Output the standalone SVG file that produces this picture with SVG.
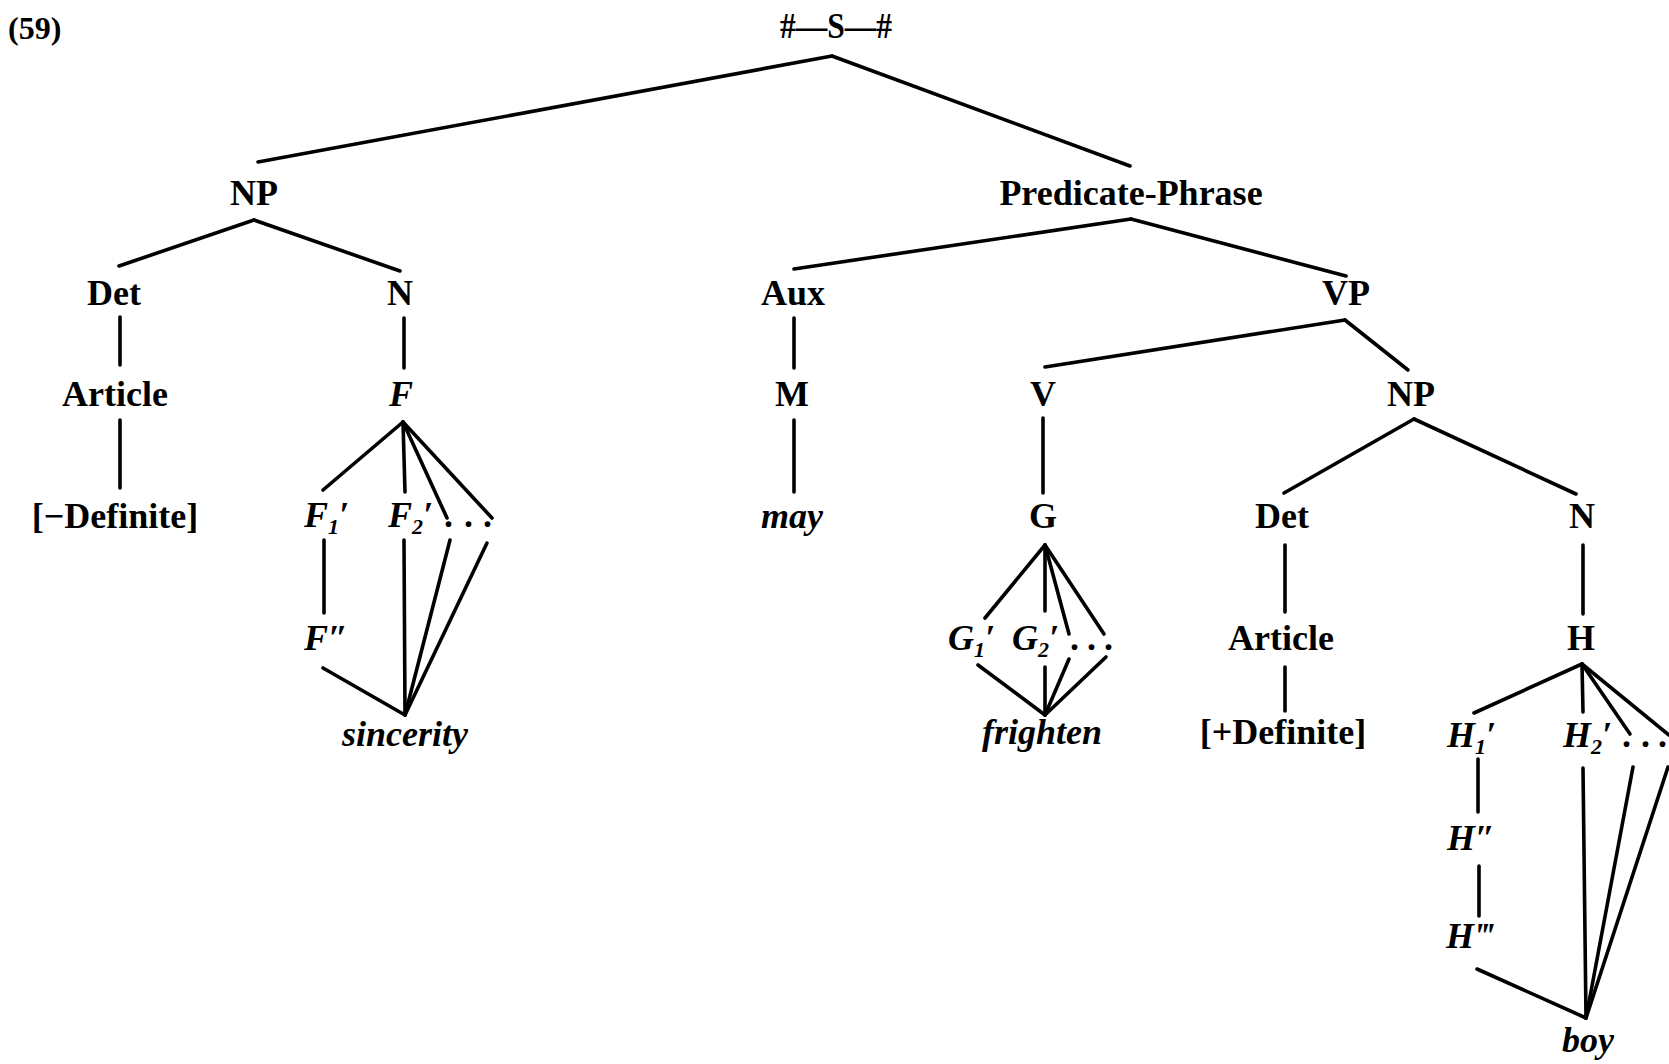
<svg xmlns="http://www.w3.org/2000/svg" width="1669" height="1064" viewBox="0 0 1669 1064">
<style>
text{font-family:"Liberation Serif","Times New Roman",serif;font-weight:bold;font-size:36px;fill:#000}
.c{text-anchor:middle}
.it{font-style:italic}
.sub{font-size:22px}
#edges line{stroke:#000;stroke-width:3.6;stroke-linecap:round;fill:none}
</style>
<rect width="1669" height="1064" fill="#fff"/>
<g id="edges">
<line x1="832" y1="56" x2="258" y2="162"/>
<line x1="832" y1="56" x2="1130" y2="166"/>
<line x1="254" y1="220" x2="119" y2="266"/>
<line x1="254" y1="220" x2="400" y2="271"/>
<line x1="120" y1="317" x2="120" y2="365"/>
<line x1="120" y1="420" x2="120" y2="488"/>
<line x1="404" y1="318" x2="404" y2="368"/>
<line x1="403" y1="422" x2="323" y2="490"/>
<line x1="403" y1="422" x2="405" y2="492"/>
<line x1="403" y1="422" x2="447" y2="518"/>
<line x1="403" y1="422" x2="492" y2="518"/>
<line x1="324" y1="540" x2="324" y2="613"/>
<line x1="323" y1="668" x2="405" y2="715"/>
<line x1="404" y1="540" x2="405" y2="715"/>
<line x1="450" y1="540" x2="405" y2="715"/>
<line x1="487" y1="543" x2="405" y2="715"/>
<line x1="1131" y1="219" x2="794" y2="269"/>
<line x1="1131" y1="219" x2="1346" y2="276"/>
<line x1="794" y1="318" x2="794" y2="368"/>
<line x1="794" y1="420" x2="794" y2="492"/>
<line x1="1345" y1="320" x2="1045" y2="367"/>
<line x1="1345" y1="320" x2="1408" y2="370"/>
<line x1="1043" y1="418" x2="1043" y2="493"/>
<line x1="1045" y1="545" x2="985" y2="618"/>
<line x1="1045" y1="545" x2="1045" y2="611"/>
<line x1="1045" y1="545" x2="1069" y2="634"/>
<line x1="1045" y1="545" x2="1104" y2="634"/>
<line x1="978" y1="665" x2="1045" y2="715"/>
<line x1="1045" y1="667" x2="1045" y2="715"/>
<line x1="1069" y1="659" x2="1045" y2="715"/>
<line x1="1106" y1="657" x2="1045" y2="715"/>
<line x1="1414" y1="419" x2="1284" y2="493"/>
<line x1="1414" y1="419" x2="1576" y2="494"/>
<line x1="1285" y1="545" x2="1285" y2="612"/>
<line x1="1285" y1="667" x2="1285" y2="711"/>
<line x1="1583" y1="545" x2="1583" y2="614"/>
<line x1="1582" y1="664" x2="1474" y2="713"/>
<line x1="1582" y1="664" x2="1583" y2="712"/>
<line x1="1582" y1="664" x2="1630" y2="734"/>
<line x1="1582" y1="664" x2="1669" y2="735"/>
<line x1="1478" y1="759" x2="1478" y2="812"/>
<line x1="1479" y1="866" x2="1479" y2="916"/>
<line x1="1477" y1="969" x2="1586" y2="1018"/>
<line x1="1583" y1="768" x2="1586" y2="1018"/>
<line x1="1633" y1="767" x2="1586" y2="1018"/>
<line x1="1668" y1="767" x2="1586" y2="1018"/>
</g>
<g id="label59"><text x="8" y="39" style="font-size:32px">(59)</text></g>
<g id="root"><text class="c" x="836" y="38" textLength="112" lengthAdjust="spacingAndGlyphs">#—S—#</text></g>
<g id="np1"><text class="c" x="254" y="205">NP</text></g>
<g id="pp"><text class="c" x="1131" y="205">Predicate-Phrase</text></g>
<g id="det1"><text class="c" x="114" y="305">Det</text></g>
<g id="n1"><text class="c" x="400" y="305">N</text></g>
<g id="aux"><text class="c" x="793" y="305">Aux</text></g>
<g id="vp"><text class="c" x="1346" y="305">VP</text></g>
<g id="article1"><text class="c" x="115" y="406">Article</text></g>
<g id="f"><text class="c it" x="401" y="406">F</text></g>
<g id="m"><text class="c" x="792" y="406">M</text></g>
<g id="v"><text class="c" x="1043" y="406">V</text></g>
<g id="np2"><text class="c" x="1411" y="406">NP</text></g>
<g id="mindef"><text class="c" x="115" y="528">[−Definite]</text></g>
<g id="f1"><text class="it" x="304" y="527">F<tspan class="sub" dy="7">1</tspan><tspan dy="-7">′</tspan></text></g>
<g id="f2"><text class="it" x="388" y="527">F<tspan class="sub" dy="7">2</tspan><tspan dy="-7">′</tspan></text></g>
<g id="fdots"><text x="444 464 483" y="527">...</text></g>
<g id="may"><text class="c it" x="792" y="528">may</text></g>
<g id="g"><text class="c" x="1043" y="528">G</text></g>
<g id="det2"><text class="c" x="1282" y="528">Det</text></g>
<g id="n2"><text class="c" x="1582" y="528">N</text></g>
<g id="f2p"><text class="it" x="304" y="650">F″</text></g>
<g id="g1"><text class="it" x="948" y="650">G<tspan class="sub" dy="7">1</tspan><tspan dy="-7">′</tspan></text></g>
<g id="g2"><text class="it" x="1012" y="650">G<tspan class="sub" dy="7">2</tspan><tspan dy="-7">′</tspan></text></g>
<g id="gdots"><text x="1070 1087 1104" y="650">...</text></g>
<g id="article2"><text class="c" x="1281" y="650">Article</text></g>
<g id="h"><text class="c" x="1581" y="650">H</text></g>
<g id="sincerity"><text class="c it" x="405" y="746">sincerity</text></g>
<g id="frighten"><text class="c it" x="1042" y="744">frighten</text></g>
<g id="plusdef"><text class="c" x="1283" y="744">[+Definite]</text></g>
<g id="h1"><text class="it" x="1447" y="747">H<tspan class="sub" dy="7">1</tspan><tspan dy="-7">′</tspan></text></g>
<g id="h2"><text class="it" x="1563" y="747">H<tspan class="sub" dy="7">2</tspan><tspan dy="-7">′</tspan></text></g>
<g id="hdots"><text x="1622 1641 1658" y="747">...</text></g>
<g id="h2p"><text class="it" x="1447" y="850">H″</text></g>
<g id="h3p"><text class="it" x="1446" y="948">H‴</text></g>
<g id="boy"><text class="c it" x="1588" y="1052">boy</text></g>
</svg>
